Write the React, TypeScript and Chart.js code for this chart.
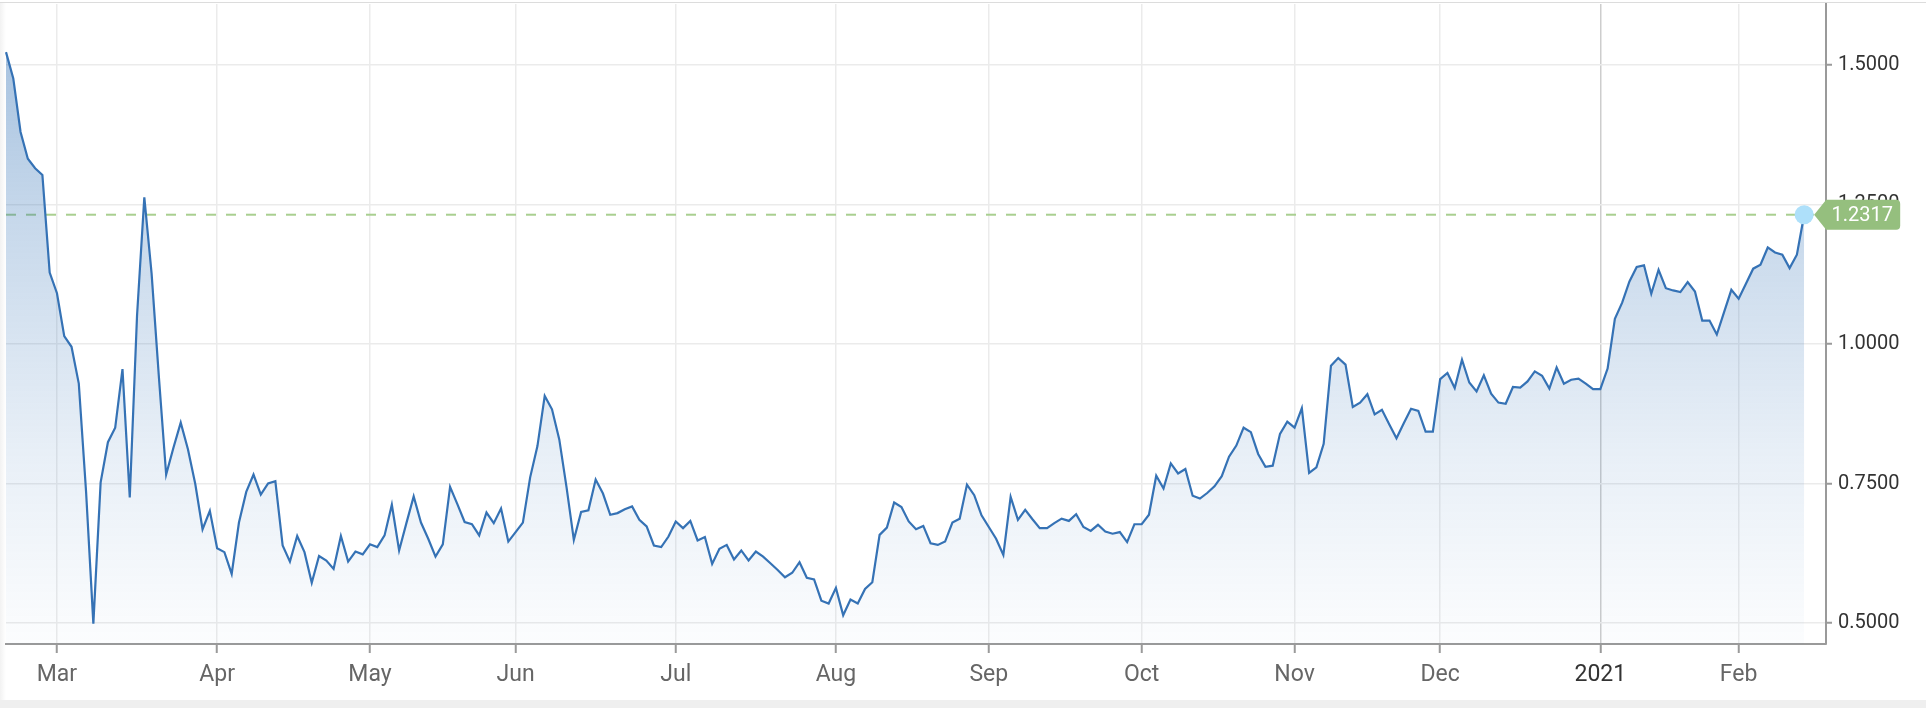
import React, { useEffect, useRef } from "react";
import { Chart, registerables } from "chart.js";

Chart.register(...registerables);

// First trading day shown and market holidays skipped by the series
const startDate = "2020-02-20";
const marketHolidays = [
  "2020-04-10", "2020-05-25", "2020-07-03", "2020-09-07", "2020-10-12",
  "2020-11-26", "2020-12-25", "2021-01-01", "2021-01-18",
];

// Daily yield values (Feb 20 2020 -> Feb 12 2021)
const febValues = [1.523, 1.476, 1.38, 1.332, 1.315, 1.303, 1.128];
const marValues = [
  1.091, 1.014, 0.995, 0.929, 0.735, 0.499, 0.752, 0.824, 0.85, 0.955, 0.725,
  1.051, 1.263, 1.126, 0.941, 0.766, 0.814, 0.859, 0.811, 0.749, 0.668, 0.701,
];
const aprValues = [
  0.634, 0.627, 0.588, 0.68, 0.735, 0.766, 0.73, 0.75, 0.754, 0.639, 0.61,
  0.656, 0.627, 0.572, 0.62, 0.612, 0.597, 0.656, 0.61, 0.628, 0.623,
];
const mayValues = [
  0.641, 0.636, 0.657, 0.712, 0.63, 0.679, 0.727, 0.68, 0.651, 0.619, 0.641,
  0.744, 0.713, 0.681, 0.677, 0.657, 0.698, 0.679, 0.705, 0.646,
];
const junValues = [
  0.663, 0.68, 0.761, 0.817, 0.907, 0.883, 0.829, 0.743, 0.649, 0.699, 0.702,
  0.757, 0.732, 0.694, 0.697, 0.704, 0.709, 0.685, 0.673, 0.639, 0.636, 0.655,
];
const julValues = [
  0.682, 0.67, 0.683, 0.648, 0.654, 0.606, 0.633, 0.64, 0.614, 0.63, 0.612,
  0.628, 0.619, 0.607, 0.595, 0.582, 0.59, 0.609, 0.581, 0.578, 0.54, 0.535,
];
const augValues = [
  0.563, 0.514, 0.542, 0.535, 0.561, 0.573, 0.658, 0.671, 0.716, 0.708, 0.682,
  0.668, 0.674, 0.643, 0.64, 0.646, 0.68, 0.687, 0.748, 0.729, 0.693,
];
const sepValues = [
  0.672, 0.651, 0.622, 0.726, 0.685, 0.703, 0.686, 0.67, 0.67, 0.679, 0.687,
  0.683, 0.695, 0.672, 0.665, 0.676, 0.664, 0.66, 0.663, 0.645, 0.677,
];
const octValues = [
  0.677, 0.694, 0.764, 0.741, 0.786, 0.768, 0.776, 0.728, 0.723, 0.733, 0.745,
  0.763, 0.798, 0.818, 0.85, 0.842, 0.803, 0.78, 0.782, 0.839, 0.861,
];
const novValues = [
  0.85, 0.885, 0.769, 0.779, 0.821, 0.961, 0.975, 0.963, 0.887, 0.895, 0.91,
  0.874, 0.882, 0.856, 0.831, 0.858, 0.884, 0.88, 0.843, 0.843,
];
const decValues = [
  0.937, 0.948, 0.921, 0.972, 0.931, 0.915, 0.944, 0.911, 0.895, 0.893, 0.923,
  0.922, 0.933, 0.951, 0.943, 0.92, 0.958, 0.929, 0.936, 0.938, 0.929, 0.919,
];
const janValues = [
  0.919, 0.956, 1.045, 1.074, 1.112, 1.138, 1.141, 1.09, 1.133, 1.1, 1.096,
  1.093, 1.111, 1.094, 1.042, 1.042, 1.017, 1.057, 1.097,
];
const feb21Values = [1.081, 1.108, 1.135, 1.142, 1.173, 1.164, 1.16, 1.136, 1.16, 1.2317];

const yieldValues = [
  ...febValues, ...marValues, ...aprValues, ...mayValues, ...junValues,
  ...julValues, ...augValues, ...sepValues, ...octValues, ...novValues,
  ...decValues, ...janValues, ...feb21Values,
];

const yTickValues = [0.5, 0.75, 1.0, 1.25, 1.5];
const yMin = 0.4624;
const yMax = 1.6093;
const monthNames = ["Jan", "Feb", "Mar", "Apr", "May", "Jun", "Jul", "Aug", "Sep", "Oct", "Nov", "Dec"];
const lastValueLabel = "1.2317";
const trailingSlots = 3; // empty trading days to the right of the last point

function tradingDates(count: number): string[] {
  const out: string[] = [];
  const d = new Date(startDate + "T00:00:00Z");
  while (out.length < count) {
    const dow = d.getUTCDay();
    const iso = d.toISOString().slice(0, 10);
    if (dow !== 0 && dow !== 6 && !marketHolidays.includes(iso)) out.push(iso);
    d.setUTCDate(d.getUTCDate() + 1);
  }
  return out;
}

const dateLabels = tradingDates(yieldValues.length + trailingSlots);

function isMonthStart(i: number): boolean {
  return i > 0 && dateLabels[i].slice(0, 7) !== dateLabels[i - 1].slice(0, 7);
}
function monthLabel(i: number): string {
  const m = Number(dateLabels[i].slice(5, 7));
  return m === 1 ? dateLabels[i].slice(0, 4) : monthNames[m - 1];
}

const decorPlugin = {
  id: "lastValueDecor",
  beforeDatasetsDraw(chart: any) {
    const { ctx, chartArea, scales } = chart;
    const last = yieldValues[yieldValues.length - 1];
    const y = scales.y.getPixelForValue(last);
    const xEnd = scales.x.getPixelForValue(yieldValues.length - 1) + 10;
    ctx.save();
    ctx.strokeStyle = "#a9cf90";
    ctx.lineWidth = 2;
    ctx.setLineDash([10, 10]);
    ctx.beginPath();
    ctx.moveTo(chartArea.left, y);
    ctx.lineTo(xEnd, y);
    ctx.stroke();
    ctx.restore();
  },
  afterDatasetsDraw(chart: any) {
    const { ctx, scales } = chart;
    const i = yieldValues.length - 1;
    const x = scales.x.getPixelForValue(i);
    const y = scales.y.getPixelForValue(yieldValues[i]);
    ctx.save();
    ctx.fillStyle = "#aee0fa";
    ctx.beginPath();
    ctx.arc(x, y, 9.5, 0, Math.PI * 2);
    ctx.fill();
    ctx.restore();
  },
  afterDraw(chart: any) {
    const { ctx, scales } = chart;
    const i = yieldValues.length - 1;
    const x = scales.x.getPixelForValue(i);
    const y = scales.y.getPixelForValue(yieldValues[i]);
    const tip = x + 10;
    const bodyL = tip + 12;
    const bodyR = tip + 86;
    const h = 30;
    const top = y - h / 2;
    const bot = y + h / 2;
    const r = 4;
    ctx.save();
    ctx.fillStyle = "#95bf7e";
    ctx.beginPath();
    ctx.moveTo(tip, y);
    ctx.lineTo(bodyL, top);
    ctx.lineTo(bodyR - r, top);
    ctx.quadraticCurveTo(bodyR, top, bodyR, top + r);
    ctx.lineTo(bodyR, bot - r);
    ctx.quadraticCurveTo(bodyR, bot, bodyR - r, bot);
    ctx.lineTo(bodyL, bot);
    ctx.closePath();
    ctx.fill();
    ctx.fillStyle = "#ffffff";
    ctx.font = "20px Roboto";
    ctx.textAlign = "center";
    ctx.textBaseline = "middle";
    ctx.fillText(lastValueLabel, (bodyL + bodyR) / 2 - 1, y + 1);
    ctx.restore();
  },
};

export default function App() {
  const canvasRef = useRef<HTMLCanvasElement | null>(null);

  useEffect(() => {
    if (!canvasRef.current) return;
    const chart = new Chart(canvasRef.current, {
      type: "line",
      data: {
        labels: dateLabels,
        datasets: [
          {
            data: yieldValues,
            borderColor: "#3572b5",
            borderWidth: 2.2,
            pointRadius: 0,
            pointHoverRadius: 0,
            tension: 0,
            fill: "start",
            backgroundColor: (c: any) => {
              const area = c.chart.chartArea;
              if (!area) return "rgba(45,110,180,0.2)";
              const g = c.chart.ctx.createLinearGradient(0, area.top, 0, area.bottom);
              g.addColorStop(0, "rgba(45,110,180,0.46)");
              g.addColorStop(0.33, "rgba(45,110,180,0.27)");
              g.addColorStop(0.7, "rgba(45,110,180,0.11)");
              g.addColorStop(1, "rgba(45,110,180,0.015)");
              return g;
            },
          },
        ],
      },
      options: {
        responsive: false,
        animation: false,
        devicePixelRatio: 1,
        layout: { padding: { left: 6, top: 4, right: 0, bottom: 0 } },
        plugins: { legend: { display: false }, tooltip: { enabled: false } },
        scales: {
          x: {
            type: "category",
            offset: false,
            afterBuildTicks: (s: any) => {
              s.ticks = s.ticks.filter((t: any) => isMonthStart(t.value));
            },
            afterFit: (s: any) => {
              s.height = 56;
              s.paddingLeft = 0;
              s.paddingRight = 0;
            },
            ticks: {
              autoSkip: false,
              maxRotation: 0,
              minRotation: 0,
              padding: 8,
              font: { family: "Roboto", size: 23 },
              color: (c: any) => (c.tick && c.tick.label === "2021" ? "#333333" : "#666666"),
              callback: (v: any) => monthLabel(Number(v)),
            },
            grid: {
              color: (c: any) => (c.tick && c.tick.label === "2021" ? "#cdcdcd" : "#ebebeb"),
              lineWidth: 1.5,
              drawTicks: true,
              tickLength: 9,
              tickColor: "#9a9a9a",
              tickWidth: 2,
            },
            border: { display: true, color: "#9a9a9a", width: 2 },
          },
          y: {
            position: "right",
            min: yMin,
            max: yMax,
            afterBuildTicks: (s: any) => {
              s.ticks = yTickValues.map((v) => ({ value: v }));
            },
            afterFit: (s: any) => {
              s.width = 100;
              s.paddingTop = 0;
              s.paddingBottom = 0;
            },
            ticks: {
              padding: 6,
              color: "#333333",
              font: { family: "Roboto", size: 20 },
              callback: (v: any) => Number(v).toFixed(4),
            },
            grid: {
              color: "#ebebeb",
              lineWidth: 1.5,
              drawTicks: true,
              tickLength: 6,
              tickColor: "#9a9a9a",
              tickWidth: 2,
            },
            border: { display: true, color: "#9a9a9a", width: 2 },
          },
        },
      },
      plugins: [decorPlugin],
    } as any);
    return () => chart.destroy();
  }, []);

  return (
    <div style={{ position: "absolute", left: 0, top: 0, width: 1926, height: 708, background: "#efefef" }}>
      <div style={{ position: "absolute", left: 0, top: 0, width: 1926, height: 700, background: "#ffffff" }} />
      <div style={{ position: "absolute", left: 0, top: 2, width: 1926, height: 1, background: "#dcdcdc" }} />
      <div
        style={{
          position: "absolute",
          left: 0,
          top: 3,
          width: 6,
          height: 697,
          background: "linear-gradient(to right, rgba(0,0,0,0.05), rgba(0,0,0,0))",
        }}
      />
      <canvas
        ref={canvasRef}
        width={1926}
        height={700}
        style={{ position: "absolute", left: 0, top: 0, width: 1926, height: 700 }}
      />
    </div>
  );
}
